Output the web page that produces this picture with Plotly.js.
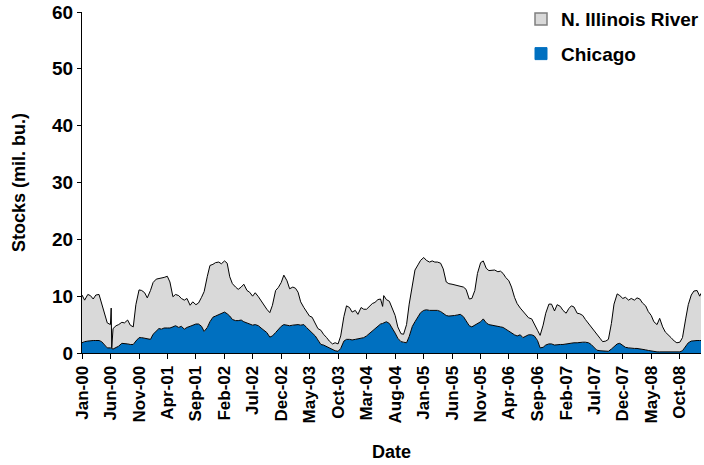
<!DOCTYPE html>
<html>
<head>
<meta charset="utf-8">
<script src="https://cdn.plot.ly/plotly-3.0.1.min.js"></script>
<style>html,body{margin:0;padding:0;background:#fff;}#chart{width:704px;height:465px;}</style>
</head>
<body>
<div id="chart"></div>
<script>
const dates = [
"2000-01-01","2000-01-15","2000-02-01","2000-02-15","2000-03-01","2000-03-15","2000-04-01","2000-04-15","2000-05-01","2000-05-15","2000-06-01","2000-06-05","2000-06-08","2000-06-15","2000-07-01","2000-07-15","2000-08-01","2000-08-15","2000-09-01","2000-09-15","2000-10-01","2000-10-15","2000-11-01","2000-11-15","2000-12-01","2000-12-15",
"2001-01-01","2001-01-15","2001-02-01","2001-02-15","2001-03-01","2001-03-15","2001-04-01","2001-04-15","2001-05-01","2001-05-15","2001-06-01","2001-06-15","2001-07-01","2001-07-15","2001-08-01","2001-08-15","2001-09-01","2001-09-15","2001-10-01","2001-10-15","2001-11-01","2001-11-15","2001-12-01","2001-12-15",
"2002-01-01","2002-01-15","2002-02-01","2002-02-15","2002-03-01","2002-03-15","2002-04-01","2002-04-15","2002-05-01","2002-05-15","2002-06-01","2002-06-15","2002-07-01","2002-07-15","2002-08-01","2002-08-15","2002-09-01","2002-09-15","2002-10-01","2002-10-15","2002-11-01","2002-11-15","2002-12-01","2002-12-15",
"2003-01-01","2003-01-15","2003-02-01","2003-02-15","2003-03-01","2003-03-15","2003-04-01","2003-04-15","2003-05-01","2003-05-15","2003-06-01","2003-06-15","2003-07-01","2003-07-15","2003-08-01","2003-08-15","2003-09-01","2003-09-15","2003-10-01","2003-10-15","2003-11-01","2003-11-15","2003-12-01","2003-12-15",
"2004-01-01","2004-01-15","2004-02-01","2004-02-15","2004-03-01","2004-03-15","2004-04-01","2004-04-15","2004-05-01","2004-05-15","2004-05-26","2004-06-01","2004-06-15","2004-07-01","2004-07-15","2004-08-01","2004-08-15","2004-09-01","2004-09-15","2004-10-01","2004-10-15","2004-11-01","2004-11-15","2004-12-01","2004-12-15",
"2005-01-01","2005-01-15","2005-02-01","2005-02-15","2005-03-01","2005-03-15","2005-04-01","2005-04-15","2005-05-01","2005-05-15","2005-06-01","2005-06-15","2005-07-01","2005-07-15","2005-08-01","2005-08-15","2005-09-01","2005-09-15","2005-10-01","2005-10-15","2005-11-01","2005-11-15","2005-12-01","2005-12-15",
"2006-01-01","2006-01-15","2006-02-01","2006-02-15","2006-03-01","2006-03-15","2006-04-01","2006-04-15","2006-05-01","2006-05-15","2006-06-01","2006-06-15","2006-07-01","2006-07-15","2006-08-01","2006-08-15","2006-09-01","2006-09-15","2006-10-01","2006-10-15","2006-11-01","2006-11-15","2006-12-01","2006-12-15",
"2007-01-01","2007-01-15","2007-02-01","2007-02-15","2007-03-01","2007-03-15","2007-04-01","2007-04-15","2007-05-01","2007-05-15","2007-06-01","2007-06-15","2007-07-01","2007-07-15","2007-08-01","2007-08-15","2007-09-01","2007-09-15","2007-10-01","2007-10-15","2007-11-01","2007-11-15","2007-12-01","2007-12-15",
"2008-01-01","2008-01-15","2008-02-01","2008-02-15","2008-03-01","2008-03-15","2008-04-01","2008-04-15","2008-05-01","2008-05-15","2008-06-01","2008-06-15","2008-07-01","2008-07-15","2008-08-01","2008-08-15","2008-09-01","2008-09-15","2008-10-01","2008-10-15","2008-11-01","2008-11-15","2008-12-01","2008-12-15",
"2009-01-01","2009-01-15","2009-01-22"
];
const chicago = [
1.8,2.0,2.1,2.2,2.2,2.2,2.2,2.0,1.4,0.9,0.9,0.9,0.8,0.7,0.9,1.2,1.7,1.7,1.6,1.5,1.5,2.1,2.7,2.7,2.6,2.5,
2.4,3.3,3.9,4.3,4.2,4.4,4.4,4.4,4.6,4.8,4.5,4.7,4.2,4.5,4.7,4.9,5.1,5.1,4.7,3.8,4.5,5.5,6.3,6.5,
6.8,7.0,7.2,6.9,6.5,5.9,5.7,5.7,5.8,5.5,5.3,5.0,4.9,5.0,4.8,4.4,4.0,3.6,2.8,3.0,3.6,4.1,4.7,5.0,
4.9,4.8,4.9,5.0,5.0,4.9,5.0,4.5,4.0,3.4,3.0,2.3,1.5,1.4,1.1,0.8,0.55,0.4,0.3,0.8,2.1,2.4,2.4,2.3,
2.4,2.5,2.6,2.7,3.0,3.4,3.8,4.3,4.8,5.1,5.2,5.3,5.5,5.2,4.5,3.5,2.6,2.0,1.9,1.8,2.9,4.7,5.5,6.4,7.1,
7.5,7.6,7.5,7.5,7.5,7.5,7.3,6.9,6.6,6.5,6.5,6.6,6.7,6.8,6.4,5.7,4.8,4.6,4.9,5.3,5.5,6.0,5.3,5.0,
4.9,4.9,4.8,4.6,4.5,4.2,3.7,3.4,3.2,3.0,3.2,2.7,2.9,3.2,3.2,3.0,2.2,0.9,1.0,1.4,1.6,1.6,1.4,1.5,
1.5,1.5,1.6,1.6,1.7,1.8,1.8,1.9,1.9,1.9,1.8,1.5,0.9,0.5,0.4,0.35,0.3,0.3,0.7,1.1,1.6,1.7,1.4,1.0,
0.9,0.8,0.8,0.8,0.75,0.7,0.55,0.45,0.35,0.25,0.2,0.2,0.2,0.2,0.1,0.1,0.1,0.15,0.2,0.4,1.3,1.8,2.1,2.2,
2.2,2.2,2.2
];
const nIllinoisRiver = [
8.4,7.3,8.2,7.9,7.3,8.0,8.1,6.8,5.6,4.4,4.1,7.0,0.1,3.6,3.9,3.8,3.7,3.6,4.2,3.4,3.1,6.4,8.4,8.3,8.0,7.2,
8.6,9.1,9.1,8.8,8.9,8.9,9.1,8.1,5.3,5.5,5.6,4.9,5.1,5.1,3.7,4.1,3.4,3.7,5.1,7.0,9.0,9.9,9.3,9.4,
9.2,8.7,9.0,8.9,6.9,6.3,5.9,5.5,5.8,6.6,5.7,5.7,5.1,5.6,5.1,4.8,4.4,4.1,4.3,5.4,7.4,7.4,7.7,8.7,
7.8,6.5,6.7,6.4,5.7,4.1,3.0,2.9,2.5,2.9,2.2,2.0,2.5,1.9,1.6,1.3,1.05,1.4,1.3,2.2,4.3,5.9,5.6,4.9,
5.1,4.3,5.4,5.0,4.7,4.8,4.9,4.6,4.6,4.4,3.0,4.8,3.9,3.9,3.6,3.1,2.0,1.4,1.4,3.2,5.7,7.6,9.1,9.1,9.2,
9.3,8.7,8.5,8.7,8.5,8.5,8.5,7.9,5.9,5.7,5.6,5.4,5.2,4.9,5.2,5.5,4.7,5.0,6.1,8.7,10.4,10.2,9.6,9.5,
9.6,9.7,9.5,9.8,9.5,9.1,9.0,8.2,6.6,5.7,4.7,4.6,3.8,3.0,2.8,2.2,1.8,2.2,3.9,5.6,7.0,7.0,6.0,7.0,
6.7,6.0,5.4,6.2,6.6,6.3,5.2,5.0,4.7,4.0,3.4,3.2,3.1,3.0,2.2,1.65,1.8,2.1,4.5,7.5,8.8,8.4,8.2,8.8,
8.4,8.8,8.5,8.9,8.75,8.1,7.75,6.85,6.25,5.25,4.8,5.9,4.4,3.5,3.1,2.6,2.0,1.65,1.7,2.3,4.7,6.7,8.1,8.7,
8.8,7.8,8.3
];
const tickDates = ["2000-01-01","2000-06-01","2000-11-01","2001-04-01","2001-09-01","2002-02-01","2002-07-01","2002-12-01","2003-05-01","2003-10-01","2004-03-01","2004-08-01","2005-01-01","2005-06-01","2005-11-01","2006-04-01","2006-09-01","2007-02-01","2007-07-01","2007-12-01","2008-05-01","2008-10-01"];
const tickLabels = ["Jan-00","Jun-00","Nov-00","Apr-01","Sep-01","Feb-02","Jul-02","Dec-02","May-03","Oct-03","Mar-04","Aug-04","Jan-05","Jun-05","Nov-05","Apr-06","Sep-06","Feb-07","Jul-07","Dec-07","May-08","Oct-08"];
const seriesNames = ["N. Illinois River","Chicago"];

const FONT = "Liberation Sans, Arial, sans-serif";
const GRAY = "#d9d9d9", BLUE = "#0070c0";

const traces = [
  {x: dates, y: chicago, type: "scatter", mode: "lines", stackgroup: "s", fill: "tozeroy",
   fillcolor: BLUE, line: {color: "#000", width: 1}, showlegend: false, hoverinfo: "skip"},
  {x: dates, y: nIllinoisRiver, type: "scatter", mode: "lines", stackgroup: "s", fill: "tonexty",
   fillcolor: GRAY, line: {color: "#000", width: 1}, showlegend: false, hoverinfo: "skip"},
  {x: [null], y: [null], type: "scatter", mode: "markers", name: seriesNames[0], legendgroup: "a",
   marker: {symbol: "square", size: 12, color: GRAY, line: {color: "#7f7f7f", width: 1.5}}},
  {x: [null], y: [null], type: "scatter", mode: "markers", name: seriesNames[1], legendgroup: "b",
   marker: {symbol: "square", size: 12, color: BLUE, line: {color: BLUE, width: 1}}}
];

const layout = {
  width: 704, height: 465,
  margin: {l: 82, r: 0, t: 12, b: 112},
  paper_bgcolor: "#fff", plot_bgcolor: "#fff",
  font: {family: FONT, color: "#000", size: 18, weight: "bold"},
  showlegend: true,
  legend: {x: 1.005, xanchor: "right", y: 1.035, yanchor: "top", bgcolor: "rgba(0,0,0,0)",
           font: {family: FONT, size: 19, weight: "bold", color: "#000"},
           tracegroupgap: 7, itemwidth: 30, traceorder: "grouped"},
  xaxis: {type: "date", range: ["2000-01-01", "2009-01-22"], tickvals: tickDates, ticktext: tickLabels,
          tickangle: -90, ticks: "outside", ticklen: 5, tickcolor: "#000", showline: true, linecolor: "#000",
          linewidth: 1, showgrid: false, zeroline: false,
          tickfont: {family: FONT, size: 17, weight: "bold"},
          title: {text: "Date", font: {family: FONT, size: 18, weight: "bold"}, standoff: 22}},
  yaxis: {range: [0, 60], dtick: 10, ticks: "outside", ticklen: 4, tickcolor: "#000", showline: true,
          linecolor: "#000", linewidth: 1, showgrid: false, zeroline: false,
          tickfont: {family: FONT, size: 19, weight: "bold"},
          title: {text: "Stocks (mil. bu.)", font: {family: FONT, size: 18, weight: "bold"}, standoff: 21}}
};

Plotly.newPlot("chart", traces, layout, {staticPlot: true, displayModeBar: false});
</script>
</body>
</html>
